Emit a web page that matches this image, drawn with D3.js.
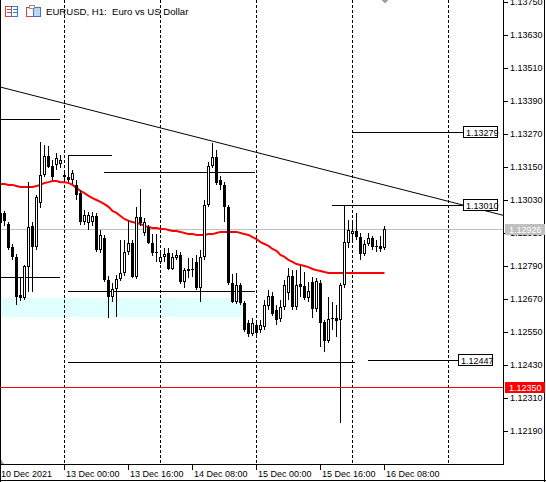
<!DOCTYPE html>
<html>
<head>
<meta charset="utf-8">
<title>EURUSD H1</title>
<script src="https://cdnjs.cloudflare.com/ajax/libs/d3/7.8.5/d3.min.js"></script>
<style>
  body { margin: 0; background: #fff; }
  svg { display: block; font-family: 'Liberation Sans', Arial, sans-serif; }
</style>
</head>
<body>
<script>
// hourly bars, index 0 = 10 Dec 08:00
const open = [1.12983,1.12983,1.12943,1.12859,1.12823,1.12685,1.12674,1.12786,1.12935,1.12859,
  1.13019,1.13121,1.13190,1.13154,1.13157,1.13161,1.13121,1.13114,1.13103,1.13085,
  1.13055,1.12950,1.12946,1.12950,1.12972,1.12848,1.12892,1.12739,1.12677,1.12706,
  1.12743,1.12765,1.12841,1.12874,1.12750,1.12968,1.12910,1.12932,1.12874,1.12841,
  1.12805,1.12823,1.12837,1.12779,1.12819,1.12830,1.12732,1.12779,1.12779,1.12805,
  1.12710,1.12823,1.13012,1.13154,1.13186,1.13103,1.13085,1.13005,1.12728,1.12659,
  1.12721,1.12655,1.12583,1.12543,1.12575,1.12557,1.12568,1.12645,1.12681,1.12630,
  1.12597,1.12641,1.12692,1.12754,1.12641,1.12725,1.12717,1.12674,1.12732,1.12634,
  1.12728,1.12586,1.12517,1.12597,1.12601,1.12594,1.12721,1.12874,1.12906,1.12917,
  1.12895,1.12834,1.12870,1.12892,1.12863,1.12863,1.12855];
const high = [1.12994,1.12990,1.12950,1.12870,1.12834,1.12746,1.12794,1.13095,1.12950,1.13048,
  1.13241,1.13230,1.13226,1.13175,1.13201,1.13194,1.13139,1.13194,1.13139,1.13103,
  1.13066,1.12994,1.12986,1.12986,1.12983,1.12921,1.12903,1.12754,1.12728,1.12757,
  1.12885,1.12885,1.12957,1.12885,1.13005,1.13070,1.12965,1.12939,1.12906,1.12906,
  1.12848,1.12855,1.12855,1.12837,1.12848,1.12841,1.12783,1.12819,1.12819,1.12830,
  1.12848,1.13030,1.13168,1.13237,1.13212,1.13117,1.13095,1.13012,1.12761,1.12765,
  1.12728,1.12663,1.12594,1.12601,1.12586,1.12594,1.12666,1.12703,1.12695,1.12648,
  1.12666,1.12739,1.12783,1.12775,1.12775,1.12790,1.12768,1.12732,1.12750,1.12746,
  1.12739,1.12594,1.12677,1.12659,1.12648,1.12728,1.13010,1.12957,1.12946,1.12983,
  1.12910,1.12885,1.12910,1.12899,1.12885,1.12899,1.12935];
const low = [1.12935,1.12935,1.12848,1.12812,1.12648,1.12663,1.12666,1.12695,1.12695,1.12848,
  1.13001,1.13114,1.13146,1.13103,1.13139,1.13146,1.13103,1.13095,1.13088,1.13030,
  1.12939,1.12939,1.12921,1.12935,1.12841,1.12837,1.12732,1.12601,1.12659,1.12605,
  1.12735,1.12754,1.12830,1.12746,1.12743,1.12935,1.12899,1.12870,1.12826,1.12805,
  1.12797,1.12805,1.12775,1.12775,1.12812,1.12725,1.12710,1.12746,1.12750,1.12703,
  1.12659,1.12812,1.13005,1.13146,1.13085,1.13066,1.12950,1.12721,1.12655,1.12652,
  1.12648,1.12550,1.12532,1.12535,1.12532,1.12546,1.12557,1.12630,1.12608,1.12575,
  1.12586,1.12630,1.12666,1.12630,1.12630,1.12677,1.12666,1.12659,1.12601,1.12623,
  1.12495,1.12477,1.12510,1.12557,1.12532,1.12219,1.12710,1.12855,1.12885,1.12885,
  1.12812,1.12826,1.12863,1.12848,1.12841,1.12841,1.12848];
const close = [1.12946,1.12954,1.12855,1.12823,1.12677,1.12674,1.12790,1.12932,1.12859,1.13041,
  1.13121,1.13190,1.13150,1.13114,1.13183,1.13175,1.13114,1.13103,1.13128,1.13048,
  1.12950,1.12975,1.12975,1.12972,1.12848,1.12903,1.12739,1.12677,1.12706,1.12743,
  1.12765,1.12841,1.12874,1.12750,1.12968,1.12946,1.12950,1.12874,1.12837,1.12837,
  1.12823,1.12834,1.12779,1.12823,1.12830,1.12732,1.12775,1.12772,1.12775,1.12710,
  1.12823,1.13012,1.13154,1.13186,1.13092,1.13085,1.13005,1.12728,1.12659,1.12721,
  1.12655,1.12557,1.12543,1.12583,1.12546,1.12575,1.12648,1.12681,1.12615,1.12594,
  1.12641,1.12721,1.12754,1.12641,1.12721,1.12714,1.12674,1.12699,1.12634,1.12735,
  1.12583,1.12517,1.12597,1.12601,1.12590,1.12721,1.12877,1.12921,1.12917,1.12895,
  1.12834,1.12870,1.12892,1.12859,1.12859,1.12852,1.12926];
const ma = [1.13088,1.13088,1.13085,1.13085,1.13081,1.13077,1.13077,1.13077,1.13077,1.13081,
  1.13085,1.13092,1.13095,1.13099,1.13099,1.13095,1.13095,1.13092,1.13085,1.13074,
  1.13063,1.13055,1.13045,1.13037,1.13030,1.13023,1.13015,1.13005,1.12990,1.12983,
  1.12972,1.12961,1.12954,1.12950,1.12946,1.12943,1.12935,1.12932,1.12928,1.12928,
  1.12925,1.12925,1.12921,1.12917,1.12917,1.12914,1.12910,1.12906,1.12906,1.12903,
  1.12903,1.12903,1.12906,1.12906,1.12910,1.12914,1.12914,1.12914,1.12914,1.12914,
  1.12910,1.12906,1.12903,1.12895,1.12888,1.12877,1.12870,1.12863,1.12852,1.12845,
  1.12830,1.12823,1.12812,1.12805,1.12797,1.12794,1.12790,1.12786,1.12779,1.12775,
  1.12772,1.12768,1.12765,1.12765,1.12765,1.12765,1.12765,1.12765,1.12765,1.12765,
  1.12765,1.12765,1.12765,1.12765,1.12765,1.12765,1.12765];

// day separators (bar index of 00:00)
const daySeparators = [16, 40, 64, 88, 112];
// time axis
const timeTickBars = [16, 32, 48, 64, 80, 96];
const timeTickLabels = ['13 Dec 00:00', '13 Dec 16:00', '14 Dec 08:00', '15 Dec 00:00', '15 Dec 16:00', '16 Dec 08:00'];
const firstDateLabel = '10 Dec 2021';
// price axis
const priceTicks = [1.12190, 1.12310, 1.12430, 1.12550, 1.12670, 1.12790, 1.12910, 1.13030, 1.13150, 1.13270, 1.13390, 1.13510, 1.13630, 1.13750];
const bidPrice = 1.12926;
const alertPrice = 1.12350;
// horizontal level segments: price, from bar, to bar
const levelPrice = [1.13325, 1.12750, 1.13194, 1.13132, 1.12699, 1.12441];
const levelFrom  = [0, 0, 17, 26, 17, 17];
const levelTo    = [15, 15, 28, 63.75, 63.75, 88.75];
// labelled levels
const tagPrice = [1.13279, 1.13010, 1.12447];
const tagFrom  = [88, 83, 92];
const tagTo    = [115.75, 115.75, 114.5];
// trend line anchors
const trendBars = [0, 100];
const trendPrices = [1.13441, 1.13070];
// zone rectangle
const zoneBars = [0, 60.5];
const zonePrices = [1.12674, 1.12605];

const W = 546, H = 482;
const plotR = 503, plotB = 464;

const x = d3.scaleLinear().domain([16, 112]).range([64, 448]);
const y = d3.scaleLinear().domain([1.12190, 1.13630]).range([431, 35]);

const svg = d3.select('body').append('svg')
  .attr('width', W).attr('height', H)
  .attr('shape-rendering', 'crispEdges');

svg.append('rect').attr('width', W).attr('height', H).attr('fill', '#fff');

svg.append('clipPath').attr('id', 'plotClip')
  .append('rect').attr('x', 0).attr('y', 0).attr('width', plotR).attr('height', plotB);

const plot = svg.append('g').attr('clip-path', 'url(#plotClip)');

// zone
plot.append('rect')
  .attr('x', x(zoneBars[0])).attr('width', x(zoneBars[1]) - x(zoneBars[0]))
  .attr('y', Math.round(y(zonePrices[0]))).attr('height', Math.round(y(zonePrices[1]) - y(zonePrices[0])))
  .attr('fill', '#e0ffff');

// bid and alert lines
const py = (p) => Math.round(y(p)) + 0.5;
plot.append('line').attr('x1', 0).attr('x2', plotR).attr('y1', py(bidPrice)).attr('y2', py(bidPrice))
  .attr('stroke', '#c0c0c0');
plot.append('line').attr('x1', 0).attr('x2', plotR).attr('y1', py(alertPrice)).attr('y2', py(alertPrice))
  .attr('stroke', '#ff0000');

// period separators
plot.selectAll('line.sep').data(daySeparators).enter().append('line')
  .attr('class', 'sep')
  .attr('x1', (d) => x(d) + 0.5).attr('x2', (d) => x(d) + 0.5)
  .attr('y1', 0).attr('y2', plotB)
  .attr('stroke', '#000').attr('stroke-dasharray', '3,2');

// level segments
plot.selectAll('line.lvl').data(levelPrice).enter().append('line')
  .attr('class', 'lvl')
  .attr('x1', (d, i) => x(levelFrom[i])).attr('x2', (d, i) => x(levelTo[i]))
  .attr('y1', (d) => py(d)).attr('y2', (d) => py(d))
  .attr('stroke', '#000');

plot.selectAll('line.tag').data(tagPrice).enter().append('line')
  .attr('class', 'tag')
  .attr('x1', (d, i) => x(tagFrom[i])).attr('x2', (d, i) => x(tagTo[i]))
  .attr('y1', (d) => py(d)).attr('y2', (d) => py(d))
  .attr('stroke', '#000');

// trend line, extended to the right
const slope = (y(trendPrices[1]) - y(trendPrices[0])) / (x(trendBars[1]) - x(trendBars[0]));
plot.append('line')
  .attr('shape-rendering', 'auto')
  .attr('x1', x(trendBars[0])).attr('y1', y(trendPrices[0]))
  .attr('x2', plotR).attr('y2', y(trendPrices[0]) + slope * (plotR - x(trendBars[0])))
  .attr('stroke', '#000').attr('stroke-width', 1);

// moving average
plot.append('path')
  .datum(ma)
  .attr('shape-rendering', 'auto')
  .attr('d', d3.line().x((d, i) => x(i) + 0.5).y((d) => y(d)))
  .attr('fill', 'none').attr('stroke', '#ff0000').attr('stroke-width', 2);

// candles
const bars = d3.range(open.length);
const candles = plot.selectAll('g.candle').data(bars).enter().append('g').attr('class', 'candle');
candles.append('rect')
  .attr('x', (i) => x(i)).attr('width', 1)
  .attr('y', (i) => Math.round(y(high[i])))
  .attr('height', (i) => Math.max(1, Math.round(y(low[i])) - Math.round(y(high[i]))))
  .attr('fill', '#000');
candles.append('rect')
  .attr('x', (i) => x(i) - 1).attr('width', 3)
  .attr('y', (i) => Math.round(y(Math.max(open[i], close[i]))))
  .attr('height', (i) => Math.max(1, Math.round(y(Math.min(open[i], close[i]))) - Math.round(y(Math.max(open[i], close[i])))))
  .attr('fill', '#000');
candles.filter((i) => close[i] > open[i])
  .filter((i) => Math.round(y(open[i])) - Math.round(y(close[i])) > 2)
  .append('rect')
  .attr('x', (i) => x(i)).attr('width', 1)
  .attr('y', (i) => Math.round(y(close[i])) + 1)
  .attr('height', (i) => Math.round(y(open[i])) - Math.round(y(close[i])) - 2)
  .attr('fill', '#fff');

// tags on levels
const tags = svg.selectAll('g.tagbox').data(tagPrice).enter().append('g').attr('class', 'tagbox')
  .attr('transform', (d, i) => 'translate(' + x(tagTo[i]) + ',' + Math.round(y(d)) + ')');
tags.append('rect')
  .attr('x', 0.5).attr('y', -5.5).attr('width', 34).attr('height', 11)
  .attr('fill', '#fff').attr('stroke', '#000');
tags.append('text')
  .attr('x', 3).attr('y', 3.5)
  .attr('font-size', 9).attr('fill', '#000')
  .text((d) => d.toFixed(5));

// frame
svg.append('line').attr('x1', plotR + 0.5).attr('x2', plotR + 0.5).attr('y1', 0).attr('y2', plotB + 1).attr('stroke', '#000');
svg.append('line').attr('x1', 0).attr('x2', plotR + 1).attr('y1', plotB + 0.5).attr('y2', plotB + 0.5).attr('stroke', '#000');
svg.append('line').attr('x1', 0.5).attr('x2', 0.5).attr('y1', 0).attr('y2', H).attr('stroke', '#000');
svg.append('line').attr('x1', 0).attr('x2', W).attr('y1', H - 1.5).attr('y2', H - 1.5).attr('stroke', '#000');
svg.append('line').attr('x1', W - 1.5).attr('x2', W - 1.5).attr('y1', 0).attr('y2', H).attr('stroke', '#000');

// price axis
const yAxis = d3.axisRight(y).tickValues(priceTicks).tickSize(4).tickPadding(2)
  .tickFormat((d) => d.toFixed(5));
const gy = svg.append('g').attr('transform', 'translate(' + (plotR + 1) + ',0)').call(yAxis);
gy.select('.domain').remove();
gy.selectAll('.tick line').attr('stroke', '#000');
gy.selectAll('.tick text').attr('font-size', 9).attr('fill', '#000')
  .attr('font-family', "'Liberation Sans', Arial, sans-serif");

// current price labels
const priceTag = (p, bg) => {
  const g = svg.append('g').attr('transform', 'translate(505,' + Math.round(y(p)) + ')');
  g.append('rect').attr('x', 0).attr('y', -5).attr('width', 40).attr('height', 11).attr('fill', bg);
  g.append('text').attr('x', 4).attr('y', 4).attr('font-size', 9).attr('fill', '#fff').text(p.toFixed(5));
};
priceTag(bidPrice, '#c0c0c0');
priceTag(alertPrice, '#ff0000');

// time axis
const tx = svg.append('g');
tx.selectAll('line').data(timeTickBars).enter().append('line')
  .attr('x1', (d) => x(d) + 0.5).attr('x2', (d) => x(d) + 0.5)
  .attr('y1', plotB).attr('y2', plotB + 6)
  .attr('stroke', '#000');
tx.selectAll('text').data(timeTickLabels).enter().append('text')
  .attr('x', (d, i) => x(timeTickBars[i]) + 2)
  .attr('y', 477)
  .attr('font-size', 9).attr('fill', '#000')
  .text((d) => d);
tx.append('text').attr('x', 1).attr('y', 477).attr('font-size', 9).attr('fill', '#000').text(firstDateLabel);
svg.append('path').attr('d', 'M1,459L4,464L1,464Z').attr('fill', '#a0a0a0');
svg.append('path').attr('d', 'M' + (x(96) - 2) + ',0L' + (x(96) + 4) + ',0L' + (x(96) + 1) + ',4Z').attr('fill', '#a0a0a0');

// header
const head = svg.append('g');
head.append('rect').attr('x', 5.5).attr('y', 6.5).attr('width', 6).attr('height', 10).attr('fill', 'none').attr('stroke', '#e0403a');
head.append('rect').attr('x', 11.5).attr('y', 6.5).attr('width', 6).attr('height', 10).attr('fill', 'none').attr('stroke', '#3a78c8');
[9.5, 12.5].forEach((yy) => {
  head.append('line').attr('x1', 7).attr('x2', 11).attr('y1', yy).attr('y2', yy).attr('stroke', '#e0403a');
  head.append('line').attr('x1', 13).attr('x2', 17).attr('y1', yy).attr('y2', yy).attr('stroke', '#3a78c8');
});
head.append('rect').attr('x', 26.5).attr('y', 7.5).attr('width', 7).attr('height', 9).attr('fill', '#fff').attr('stroke', '#e0403a');
head.append('rect').attr('x', 33.5).attr('y', 7.5).attr('width', 7).attr('height', 9).attr('fill', '#bcd8f0').attr('stroke', '#3a78c8');
head.append('rect').attr('x', 29.5).attr('y', 5.5).attr('width', 5).attr('height', 3).attr('fill', '#fff').attr('stroke', '#909090');
head.append('text').attr('x', 46).attr('y', 15).attr('font-size', 9.6).attr('fill', '#000')
  .attr('xml:space', 'preserve').style('white-space', 'pre').text('EURUSD, H1:  Euro vs US Dollar');
</script>
</body>
</html>
